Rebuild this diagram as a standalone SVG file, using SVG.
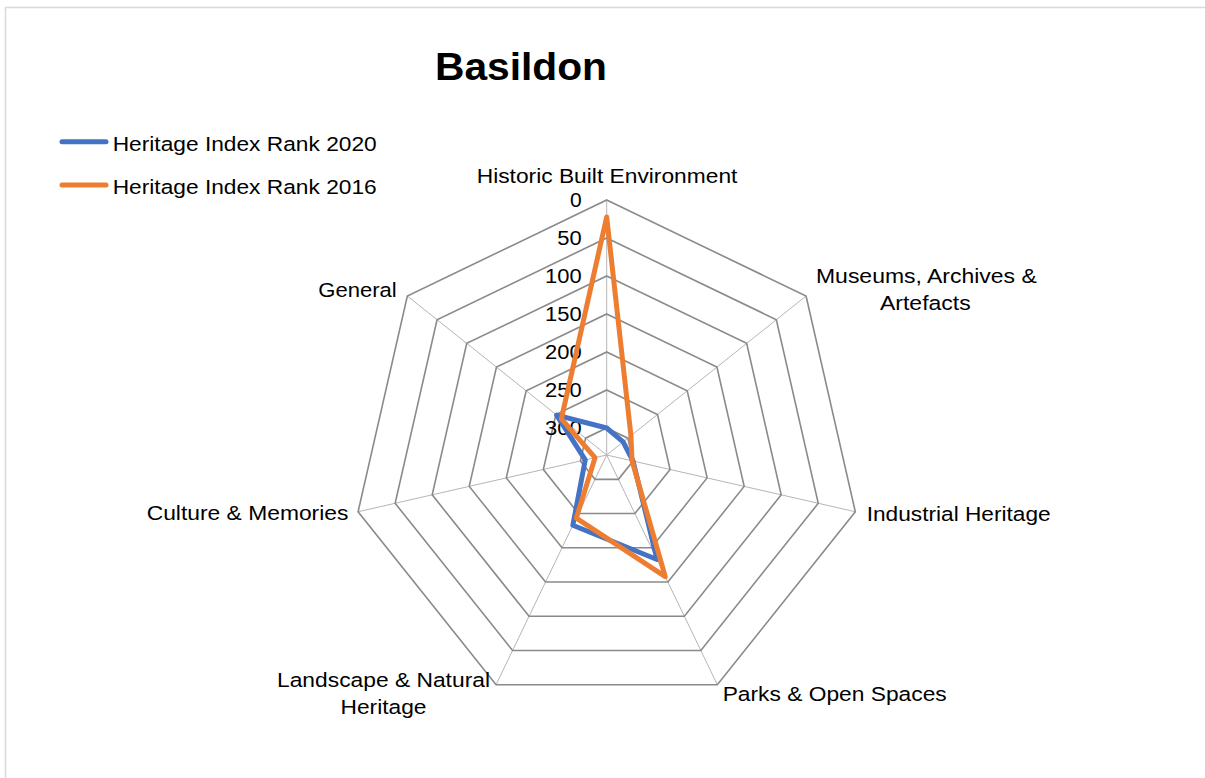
<svg xmlns="http://www.w3.org/2000/svg" width="1205" height="778" viewBox="0 0 1205 778">
<style>
.t{font-family:"Liberation Sans",Arial,sans-serif;font-size:20.5px;fill:#000}
.ttl{font-family:"Liberation Sans",Arial,sans-serif;font-size:38px;font-weight:bold;fill:#000}
.ring{fill:none;stroke:#8a8a8a;stroke-width:1.6}
.spoke{fill:none;stroke:#b5b5b5;stroke-width:1}
.s20{fill:none;stroke:#4472C4;stroke-width:5;stroke-linejoin:round;stroke-linecap:round}
.s16{fill:none;stroke:#ED7D31;stroke-width:5;stroke-linejoin:round;stroke-linecap:round}
</style>
<rect x="0" y="0" width="1205" height="778" fill="#fff"/>
<rect x="5.5" y="7.5" width="1215" height="790" fill="none" stroke="#d9d9d9" stroke-width="1.5"/>
<g id="title"><text class="ttl" x="435" y="80" textLength="172" lengthAdjust="spacingAndGlyphs">Basildon</text></g>
<g id="legend">
<line class="s20" x1="62" y1="141.7" x2="106" y2="141.7" stroke-width="6"/>
<text class="t" x="112.7" y="150.5" textLength="264" lengthAdjust="spacingAndGlyphs">Heritage Index Rank 2020</text>
<line class="s16" x1="62" y1="185" x2="106" y2="185" stroke-width="6"/>
<text class="t" x="112.7" y="193.8" textLength="264" lengthAdjust="spacingAndGlyphs">Heritage Index Rank 2016</text>
</g>
<g id="grid">
<g id="spokes">
<line class="spoke" x1="606.7" y1="455" x2="606.7" y2="200"/>
<line class="spoke" x1="606.7" y1="455" x2="806.07" y2="296.01"/>
<line class="spoke" x1="606.7" y1="455" x2="855.31" y2="511.74"/>
<line class="spoke" x1="606.7" y1="455" x2="717.34" y2="684.75"/>
<line class="spoke" x1="606.7" y1="455" x2="496.06" y2="684.75"/>
<line class="spoke" x1="606.7" y1="455" x2="358.09" y2="511.74"/>
<line class="spoke" x1="606.7" y1="455" x2="407.33" y2="296.01"/>
</g>
<g id="rings">
<polygon class="ring" points="606.7,200 806.07,296.01 855.31,511.74 717.34,684.75 496.06,684.75 358.09,511.74 407.33,296.01"/>
<polygon class="ring" points="606.7,238 776.36,319.70 818.26,503.29 700.85,650.51 512.55,650.51 395.14,503.29 437.04,319.70"/>
<polygon class="ring" points="606.7,276 746.65,343.40 781.21,494.83 684.36,616.27 529.04,616.27 432.19,494.83 466.75,343.40"/>
<polygon class="ring" points="606.7,314 716.94,367.09 744.17,486.38 667.88,582.04 545.52,582.04 469.23,486.38 496.46,367.09"/>
<polygon class="ring" points="606.7,352 687.23,390.78 707.12,477.92 651.39,547.80 562.01,547.80 506.28,477.92 526.17,390.78"/>
<polygon class="ring" points="606.7,390 657.52,414.47 670.07,469.46 634.90,513.56 578.50,513.56 543.33,469.46 555.88,414.47"/>
<polygon class="ring" points="606.7,428 627.81,438.17 633.02,461.01 618.41,479.33 594.99,479.33 580.38,461.01 585.59,438.17"/>
</g>
</g>
<g id="axis-labels">
<text class="t" x="581.7" y="207" text-anchor="end" textLength="11.7" lengthAdjust="spacingAndGlyphs">0</text>
<text class="t" x="581.7" y="245" text-anchor="end" textLength="24.4" lengthAdjust="spacingAndGlyphs">50</text>
<text class="t" x="581.7" y="283" text-anchor="end" textLength="36.6" lengthAdjust="spacingAndGlyphs">100</text>
<text class="t" x="581.7" y="321" text-anchor="end" textLength="36.6" lengthAdjust="spacingAndGlyphs">150</text>
<text class="t" x="581.7" y="359" text-anchor="end" textLength="36.6" lengthAdjust="spacingAndGlyphs">200</text>
<text class="t" x="581.7" y="397" text-anchor="end" textLength="36.6" lengthAdjust="spacingAndGlyphs">250</text>
<text class="t" x="581.7" y="435" text-anchor="end" textLength="36.6" lengthAdjust="spacingAndGlyphs">300</text>
</g>
<g id="category-labels">
<text class="t" x="476.7" y="183.3" textLength="260.7" lengthAdjust="spacingAndGlyphs">Historic Built Environment</text>
<text class="t" x="816" y="283.3" textLength="220.7" lengthAdjust="spacingAndGlyphs">Museums, Archives &amp;</text>
<text class="t" x="880" y="310" textLength="90.7" lengthAdjust="spacingAndGlyphs">Artefacts</text>
<text class="t" x="866.7" y="520.7" textLength="184" lengthAdjust="spacingAndGlyphs">Industrial Heritage</text>
<text class="t" x="722.7" y="701" textLength="224" lengthAdjust="spacingAndGlyphs">Parks &amp; Open Spaces</text>
<text class="t" x="277" y="687.3" textLength="213" lengthAdjust="spacingAndGlyphs">Landscape &amp; Natural</text>
<text class="t" x="340.5" y="714" textLength="86" lengthAdjust="spacingAndGlyphs">Heritage</text>
<text class="t" x="146.7" y="520" textLength="201.7" lengthAdjust="spacingAndGlyphs">Culture &amp; Memories</text>
<text class="t" x="318.3" y="296.7" textLength="78.4" lengthAdjust="spacingAndGlyphs">General</text>
</g>
<g id="series">
<polygon id="series-2020" class="s20" points="606.7,428 623.12,441.91 633.02,461.01 657.03,559.51 572.86,525.28 585.25,459.90 556.66,415.10"/>
<polygon id="series-2016" class="s16" points="606.7,217 630.94,435.67 632.05,460.79 665.27,576.63 576.33,518.07 595.0,457.67 561.35,418.84"/>
</g>
</svg>
